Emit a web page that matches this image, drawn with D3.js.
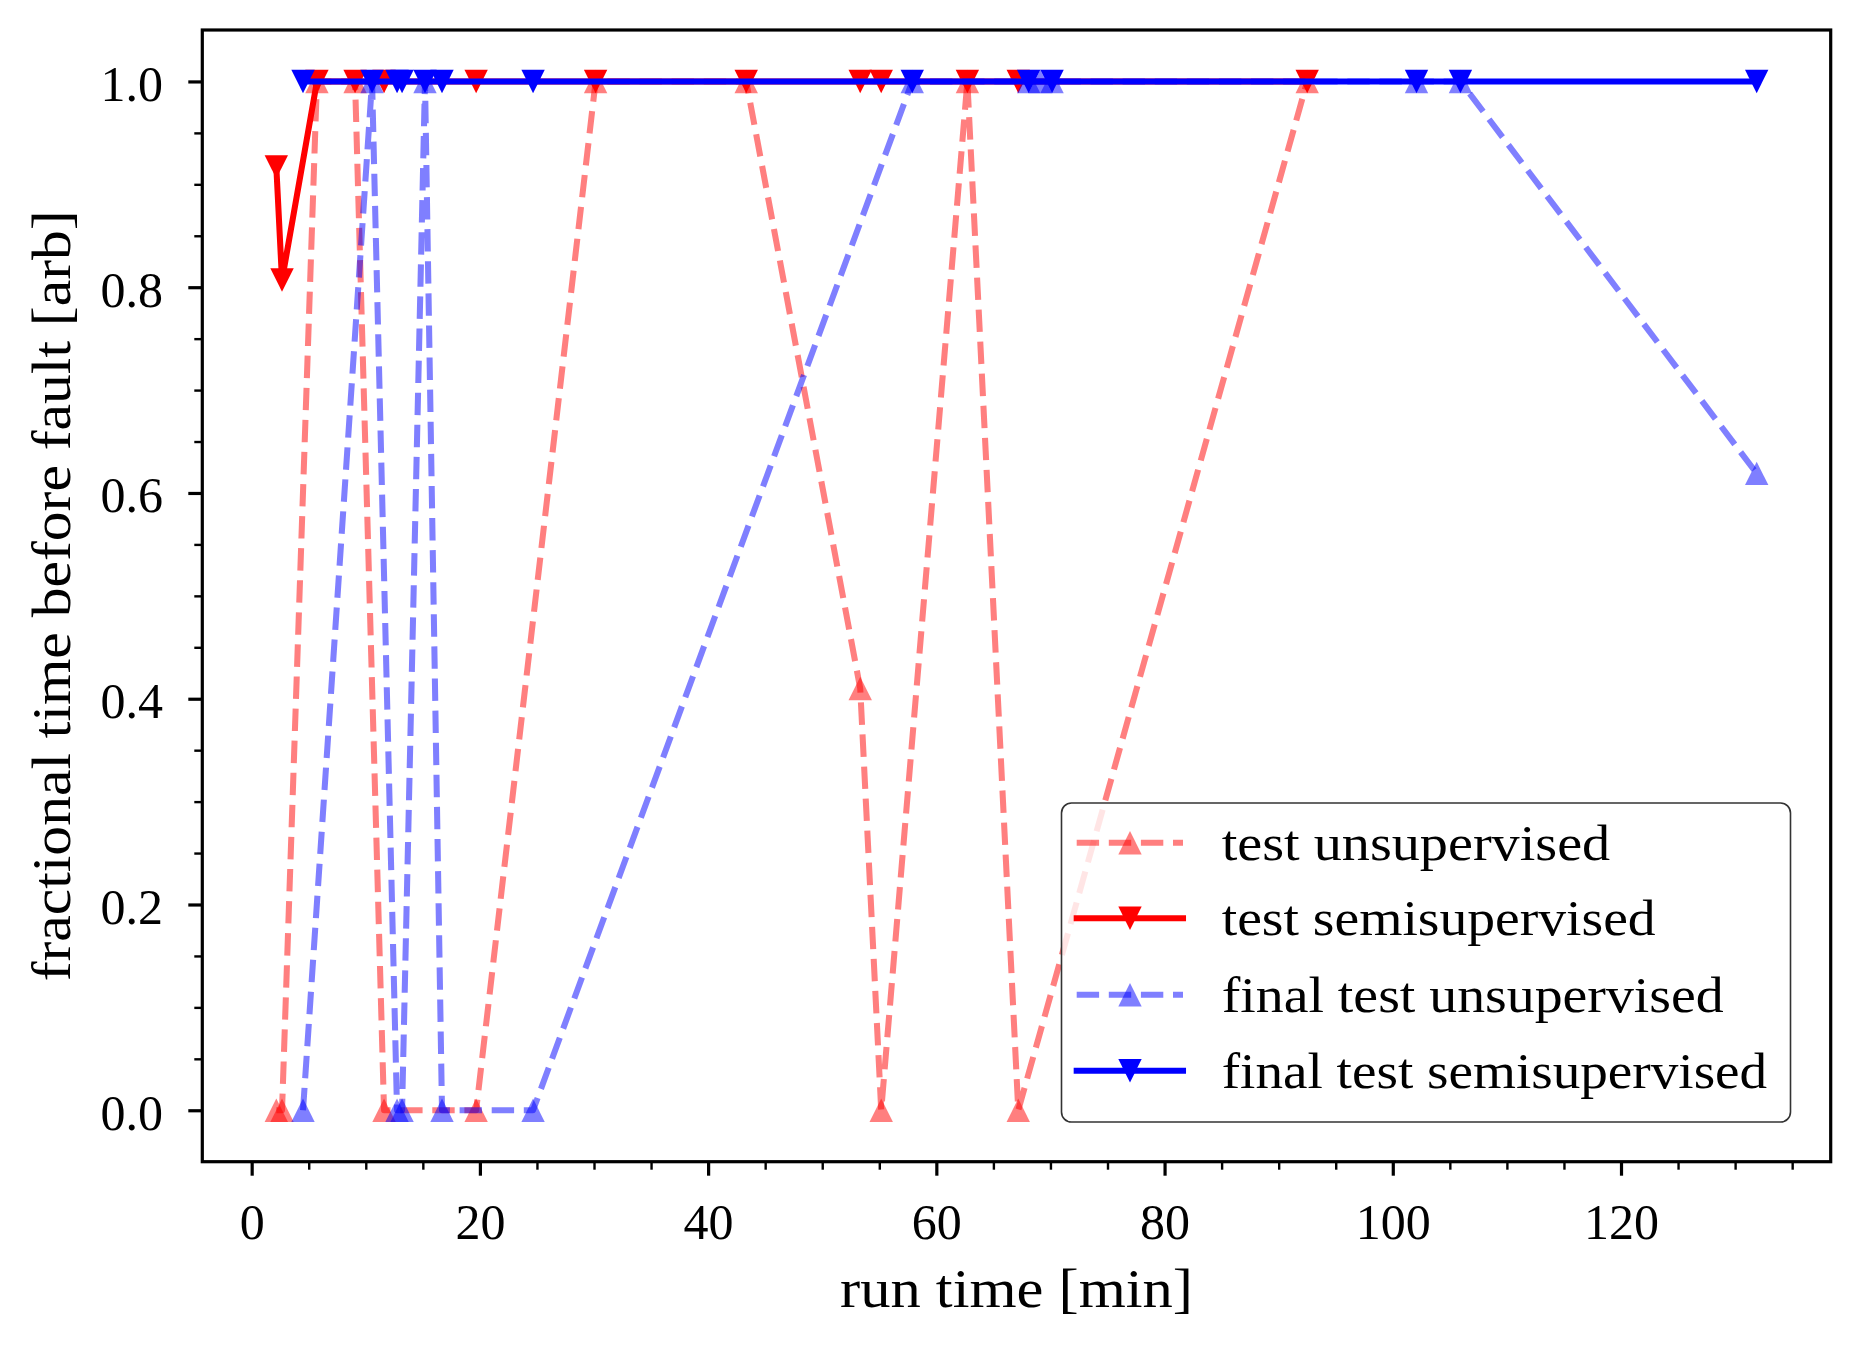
<!DOCTYPE html>
<html>
<head>
<meta charset="utf-8">
<script src="https://cdn.jsdelivr.net/npm/d3@7/dist/d3.min.js"></script>
<style>
  html, body { margin: 0; padding: 0; background: #ffffff; }
  svg { display: block; }
</style>
</head>
<body>
<svg id="chart" width="1859" height="1353"></svg>
<script>
// ---------------- data ----------------
const testX          = [2.16, 2.66, 5.72, 9.06, 11.60, 19.67, 30.14, 43.34, 53.33, 55.17, 62.72, 67.18, 92.50];
const testUnsupY     = [0, 0, 1, 1, 0, 0, 1, 1, 0.41, 0, 1, 0, 1];
const testSemiY      = [0.917, 0.807, 1, 1, 1, 1, 1, 1, 1, 1, 1, 1, 1];

const finalUnsupX    = [4.50, 10.55, 12.74, 13.18, 15.19, 16.68, 24.66, 57.89, 68.09, 69.11, 70.14, 102.08, 105.93, 131.89];
const finalUnsupY    = [0, 1, 0, 0, 1, 0, 0, 1, 1, 1, 1, 1, 1, 0.619];
const finalSemiX     = [4.50, 10.55, 12.74, 13.18, 15.19, 16.68, 24.66, 57.89, 68.09, 70.14, 102.08, 105.93, 131.89];
const finalSemiY     = [1, 1, 1, 1, 1, 1, 1, 1, 1, 1, 1, 1, 1];

const seriesNames    = ["test unsupervised", "test semisupervised", "final test unsupervised", "final test semisupervised"];
const xTickValues    = [0, 20, 40, 60, 80, 100, 120];
const xTickLabels    = ["0", "20", "40", "60", "80", "100", "120"];
const yTickValues    = [0, 0.2, 0.4, 0.6, 0.8, 1.0];
const yTickLabels    = ["0.0", "0.2", "0.4", "0.6", "0.8", "1.0"];
const xLabel         = "run time [min]";
const yLabel         = "fractional time before fault [arb]";

// ---------------- series table ----------------
const zip = (xs, ys) => xs.map((x, i) => ({ x: x, y: ys[i] }));
const series = [
  { name: seriesNames[0], pts: zip(testX, testUnsupY),        color: "#ff0000", alpha: 0.5, dashed: true,  marker: "up"   },
  { name: seriesNames[1], pts: zip(testX, testSemiY),         color: "#ff0000", alpha: 1.0, dashed: false, marker: "down" },
  { name: seriesNames[2], pts: zip(finalUnsupX, finalUnsupY), color: "#0000ff", alpha: 0.5, dashed: true,  marker: "up"   },
  { name: seriesNames[3], pts: zip(finalSemiX, finalSemiY),   color: "#0000ff", alpha: 1.0, dashed: false, marker: "down" }
];

// ---------------- layout ----------------
const FONT = "'Liberation Serif', 'Times New Roman', serif";
const plot = { left: 202.3, right: 1830.7, top: 30, bottom: 1161.7 };
const LW = 6.05;
const DASH = "22.4,9.7";
const MS = 11.7; // half marker size

const allX = series.flatMap(s => s.pts.map(p => p.x));
const allY = series.flatMap(s => s.pts.map(p => p.y));
const pad = (ext) => { const d = (ext[1] - ext[0]) * 0.05; return [ext[0] - d, ext[1] + d]; };

const x = d3.scaleLinear().domain(pad(d3.extent(allX))).range([plot.left, plot.right]);
const y = d3.scaleLinear().domain(pad(d3.extent(allY))).range([plot.bottom, plot.top]);

const svg = d3.select("#chart");
svg.append("rect").attr("width", 1859).attr("height", 1353).attr("fill", "#ffffff");

function markerPath(kind, s) {
  return kind === "up"
    ? `M0,${-s}L${s},${s}L${-s},${s}Z`
    : `M0,${s}L${s},${-s}L${-s},${-s}Z`;
}

// ---------------- data layer ----------------
const clipId = "plotclip";
svg.append("clipPath").attr("id", clipId).append("rect")
  .attr("x", plot.left).attr("y", plot.top)
  .attr("width", plot.right - plot.left).attr("height", plot.bottom - plot.top);

const dataG = svg.append("g").attr("clip-path", `url(#${clipId})`);
const line = d3.line().x(d => x(d.x)).y(d => y(d.y));

series.forEach(s => {
  const g = dataG.append("g");
  g.append("path")
    .attr("d", line(s.pts))
    .attr("fill", "none")
    .attr("stroke", s.color)
    .attr("stroke-opacity", s.alpha)
    .attr("stroke-width", LW)
    .attr("stroke-linejoin", "round")
    .attr("stroke-linecap", s.dashed ? "butt" : "square")
    .attr("stroke-dasharray", s.dashed ? DASH : null);
  g.selectAll("path.mk").data(s.pts).enter().append("path")
    .attr("class", "mk")
    .attr("d", markerPath(s.marker, MS))
    .attr("transform", d => `translate(${x(d.x)},${y(d.y)})`)
    .attr("fill", s.color)
    .attr("fill-opacity", s.alpha);
});

// ---------------- axes ----------------
const xAxisG = svg.append("g").attr("transform", `translate(0,${plot.bottom})`);
xAxisG.call(d3.axisBottom(x).tickValues(xTickValues).tickFormat((d, i) => xTickLabels[i]).tickSize(14).tickSizeOuter(0));
xAxisG.select(".domain").remove();
xAxisG.selectAll(".tick line").attr("stroke", "#000").attr("stroke-width", 3.2);
xAxisG.selectAll(".tick text")
  .attr("y", 77.3).attr("dy", null)
  .attr("fill", "#000")
  .style("font-family", FONT).style("font-size", "50px");

const xMinor = d3.range(5, 140, 5).filter(v => v % 20 !== 0 && v < x.domain()[1]);
const xMinorG = svg.append("g").attr("transform", `translate(0,${plot.bottom})`);
xMinorG.call(d3.axisBottom(x).tickValues(xMinor).tickFormat("").tickSize(8).tickSizeOuter(0));
xMinorG.select(".domain").remove();
xMinorG.selectAll(".tick line").attr("stroke", "#000").attr("stroke-width", 2.4);

const yAxisG = svg.append("g").attr("transform", `translate(${plot.left},0)`);
yAxisG.call(d3.axisLeft(y).tickValues(yTickValues).tickFormat((d, i) => yTickLabels[i]).tickSize(14).tickSizeOuter(0));
yAxisG.select(".domain").remove();
yAxisG.selectAll(".tick line").attr("stroke", "#000").attr("stroke-width", 3.2);
yAxisG.selectAll(".tick text")
  .attr("x", -(plot.left - 163)).attr("dy", null).attr("y", 19)
  .attr("fill", "#000")
  .style("font-family", FONT).style("font-size", "50px");

const yMinor = d3.range(0, 21).map(i => i * 0.05).filter(v => Math.abs(v * 5 - Math.round(v * 5)) > 1e-6);
const yMinorG = svg.append("g").attr("transform", `translate(${plot.left},0)`);
yMinorG.call(d3.axisLeft(y).tickValues(yMinor).tickFormat("").tickSize(8).tickSizeOuter(0));
yMinorG.select(".domain").remove();
yMinorG.selectAll(".tick line").attr("stroke", "#000").attr("stroke-width", 2.4);

// frame
svg.append("rect")
  .attr("x", plot.left).attr("y", plot.top)
  .attr("width", plot.right - plot.left).attr("height", plot.bottom - plot.top)
  .attr("fill", "none").attr("stroke", "#000").attr("stroke-width", 3.2);

// axis labels
svg.append("text")
  .attr("x", (plot.left + plot.right) / 2).attr("y", 1307)
  .attr("text-anchor", "middle")
  .attr("textLength", 353).attr("lengthAdjust", "spacingAndGlyphs")
  .style("font-family", FONT).style("font-size", "54px").attr("fill", "#000")
  .text(xLabel);

svg.append("text")
  .attr("transform", `translate(70,${(plot.top + plot.bottom) / 2}) rotate(-90)`)
  .attr("text-anchor", "middle")
  .attr("textLength", 771).attr("lengthAdjust", "spacingAndGlyphs")
  .style("font-family", FONT).style("font-size", "54px").attr("fill", "#000")
  .text(yLabel);

// ---------------- legend ----------------
const leg = { x: 1061.5, y: 803, w: 729, h: 319 };
const legRows = [842.7, 918.3, 994.7, 1070.7];
const legTextW = [388.5, 434, 502, 545.5];
const legG = svg.append("g");
legG.append("rect")
  .attr("x", leg.x).attr("y", leg.y).attr("width", leg.w).attr("height", leg.h)
  .attr("rx", 10).attr("ry", 10)
  .attr("fill", "#ffffff").attr("fill-opacity", 0.8)
  .attr("stroke", "#333333").attr("stroke-width", 1.6);

series.forEach((s, i) => {
  const cy = legRows[i];
  legG.append("line")
    .attr("x1", 1076.7).attr("x2", 1183).attr("y1", cy).attr("y2", cy)
    .attr("stroke", s.color).attr("stroke-opacity", s.alpha)
    .attr("stroke-width", LW)
    .attr("stroke-linecap", s.dashed ? "butt" : "square")
    .attr("stroke-dasharray", s.dashed ? DASH : null);
  legG.append("path")
    .attr("d", markerPath(s.marker, MS))
    .attr("transform", `translate(1130,${cy})`)
    .attr("fill", s.color).attr("fill-opacity", s.alpha);
  legG.append("text")
    .attr("x", 1221.7).attr("y", cy + 17)
    .attr("textLength", legTextW[i]).attr("lengthAdjust", "spacingAndGlyphs")
    .style("font-family", FONT).style("font-size", "50px").attr("fill", "#000")
    .text(s.name);
});
</script>
</body>
</html>
